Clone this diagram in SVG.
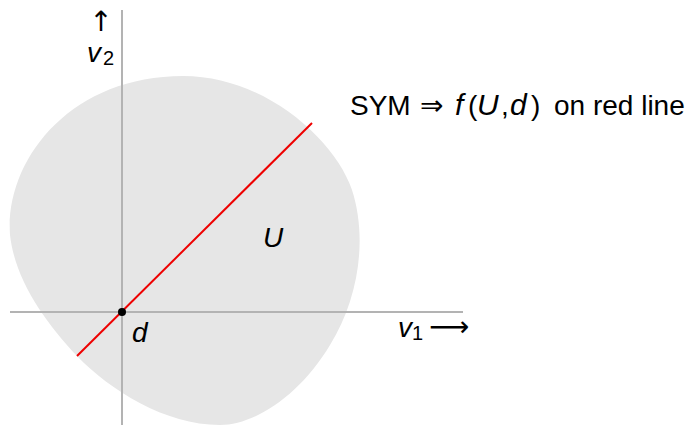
<svg xmlns="http://www.w3.org/2000/svg" width="695" height="426" viewBox="0 0 695 426">
<style>
text{font-family:"Liberation Sans",Arial,sans-serif;font-size:28px;fill:#000}
.i{font-style:italic}
.m{font-style:italic;font-size:30px}
.s{font-size:20px;font-style:normal}
.ar{font-family:"DejaVu Sans",sans-serif}
.ax{stroke:#b3b3b3;stroke-width:2;fill:none}
</style>
<rect width="695" height="426" fill="#fff"/>
<g id="region">
<path d="M 183,76 C 265,76 335,140 352,190 C 368,240 358,300 330,345 C 300,395 255,425 220,425 C 165,425 110,390 77,356 C 45,322 15,280 10,235 C 5,160 70,76 183,76 Z" fill="#e6e6e6"/>
</g>
<g id="axes">
<line class="ax" x1="122" y1="10" x2="122" y2="425"/>
<line class="ax" x1="10" y1="312" x2="463" y2="312"/>
</g>
<g id="connectors">
<line x1="77" y1="356" x2="312" y2="123" stroke="#e00" stroke-width="2"/>
</g>
<g id="point-d"><circle cx="122" cy="312" r="4" fill="#000"/></g>
<g id="labels">
<text x="101" y="31" text-anchor="middle" class="ar" font-size="28">↑</text>
<text x="87" y="62" class="i">v</text><text x="103" y="65" class="s">2</text>
<text x="263" y="247" class="i" font-size="30">U</text>
<text x="132" y="342" class="i" font-size="32">d</text>
<text x="398" y="337" class="i">v</text><text x="412" y="340" class="s">1</text>
<text x="429" y="336" class="ar">⟶</text>
<text y="115"><tspan x="420" class="ar">⇒</tspan><tspan x="350">SYM</tspan><tspan x="455" class="m">f</tspan><tspan x="468">(</tspan><tspan x="477" class="m">U</tspan><tspan x="501">,</tspan><tspan x="510" class="m">d</tspan><tspan x="531">)</tspan><tspan x="554">on red line</tspan></text>
</g>
</svg>
